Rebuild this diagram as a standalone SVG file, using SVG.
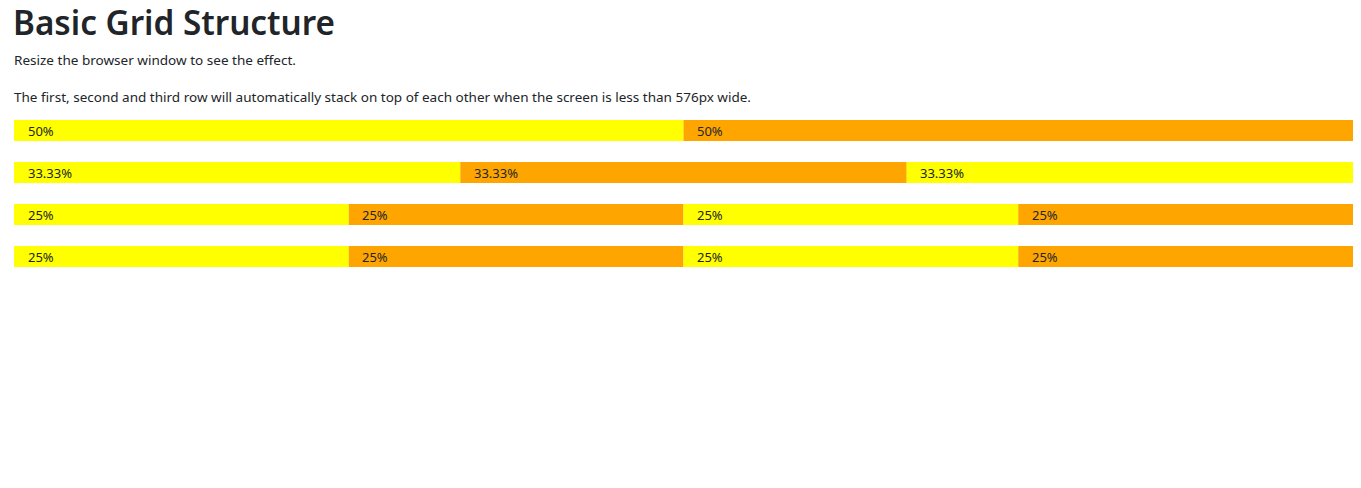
<svg xmlns="http://www.w3.org/2000/svg" width="1361" height="488" viewBox="0 0 1361 488">
<style>
text{font-family:"Noto Sans","Open Sans",sans-serif;fill:#212529}
.t{font-size:34px;font-weight:600}
.p{font-size:13px}
.c{font-size:13px}
.y{fill:#ffff00}
.o{fill:#ffa500}
</style>
<rect width="1361" height="488" fill="#fff"/>
<text class="t" x="13" y="35" textLength="322" lengthAdjust="spacingAndGlyphs">Basic Grid Structure</text>
<text class="p" x="14" y="65" textLength="282" lengthAdjust="spacingAndGlyphs">Resize the browser window to see the effect.</text>
<text class="p" x="14" y="102" textLength="737" lengthAdjust="spacingAndGlyphs">The first, second and third row will automatically stack on top of each other when the screen is less than 576px wide.</text>
<g id="row1">
<rect class="y" x="14" y="120" width="669.5" height="21"/>
<rect class="o" x="683.5" y="120" width="669.5" height="21"/>
<text class="c" x="28" y="136">50%</text>
<text class="c" x="697" y="136">50%</text>
</g>
<g id="row2">
<rect class="y" x="14" y="162" width="446.3" height="21"/>
<rect class="o" x="460.3" y="162" width="446.4" height="21"/>
<rect class="y" x="906.7" y="162" width="446.3" height="21"/>
<text class="c" x="28" y="178">33.33%</text>
<text class="c" x="474" y="178">33.33%</text>
<text class="c" x="920" y="178">33.33%</text>
</g>
<g id="row3">
<rect class="y" x="14" y="204" width="334.75" height="21"/>
<rect class="o" x="348.75" y="204" width="334.75" height="21"/>
<rect class="y" x="683.5" y="204" width="334.75" height="21"/>
<rect class="o" x="1018.25" y="204" width="334.75" height="21"/>
<text class="c" x="28" y="220">25%</text>
<text class="c" x="362" y="220">25%</text>
<text class="c" x="697" y="220">25%</text>
<text class="c" x="1032" y="220">25%</text>
</g>
<g id="row4">
<rect class="y" x="14" y="246" width="334.75" height="21"/>
<rect class="o" x="348.75" y="246" width="334.75" height="21"/>
<rect class="y" x="683.5" y="246" width="334.75" height="21"/>
<rect class="o" x="1018.25" y="246" width="334.75" height="21"/>
<text class="c" x="28" y="262">25%</text>
<text class="c" x="362" y="262">25%</text>
<text class="c" x="697" y="262">25%</text>
<text class="c" x="1032" y="262">25%</text>
</g>
<g id="connectors"/>
</svg>
